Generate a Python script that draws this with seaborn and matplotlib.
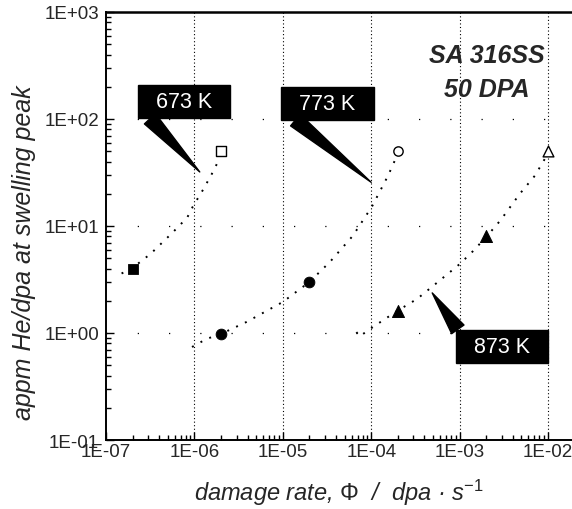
import numpy as np
import pandas as pd
import matplotlib
matplotlib.use("Agg")
import matplotlib.pyplot as plt
from matplotlib.ticker import FixedLocator, LogLocator, FuncFormatter, NullFormatter
import seaborn as sns

# measured points (damage rate in dpa/s, appm He/dpa at swelling peak)
rate_673_filled = [2e-7]
he_673_filled = [4.0]
rate_673_open = [2e-6]
he_673_open = [50]

rate_773_filled = [2e-6, 2e-5]
he_773_filled = [0.98, 3.0]
rate_773_open = [2e-4]
he_773_open = [50]

rate_873_filled = [2e-4, 2e-3]
he_873_filled = [1.6, 8.0]
rate_873_open = [1e-2]
he_873_open = [50]

# dotted fit curves
fit_673_x = [1.5e-7, 1.95e-7, 3.2e-7, 5.6e-7, 8.3e-7, 9.6e-7, 1.26e-6, 1.62e-6, 1.85e-6]
fit_673_y = [3.6, 4.0, 5.5, 8.6, 12, 15.2, 22, 32, 40]

fit_773_x = [9.4e-7, 1.37e-6, 2e-6, 3.9e-6, 1.0e-5, 2.0e-5, 3.4e-5, 6.2e-5, 1.02e-4, 1.55e-4, 1.9e-4]
fit_773_y = [0.74, 0.88, 0.98, 1.27, 1.95, 3.0, 4.6, 8.1, 15.2, 29.5, 43]

fit_873_x = [6.8e-5, 7.4e-5, 1.05e-4, 1.95e-4, 3.3e-4, 5.0e-4, 1.0e-3, 1.41e-3, 2.0e-3, 2.9e-3, 4.8e-3, 7.1e-3, 9.3e-3]
fit_873_y = [1.02, 0.93, 1.14, 1.6, 2.08, 2.75, 4.4, 5.8, 7.9, 11.3, 20, 29.5, 43]

# callout labels: text, position, tip
labels = ["673 K", "773 K", "873 K"]
label_pos = [(7.6e-7, 145), (3.2e-5, 141), (3.05e-3, 0.75)]
label_tip = [(1.15e-6, 32), (1.0e-4, 25.6), (4.9e-4, 2.37)]
label_rel = [(0.0, 0), (0.0, 0), (0.0, 1)]

x_ticks = [1e-7, 1e-6, 1e-5, 1e-4, 1e-3, 1e-2]
y_ticks = [1e-1, 1e0, 1e1, 1e2, 1e3]

sns.set_style("white")
plt.rcParams["font.family"] = ["Liberation Sans", "DejaVu Sans"]
plt.rcParams["mathtext.fontset"] = "custom"
plt.rcParams["mathtext.rm"] = "Liberation Sans"
plt.rcParams["mathtext.it"] = "Liberation Sans:italic"

fig = plt.figure(figsize=(5.72, 5.10), dpi=100)
ax = fig.add_axes([106 / 572, 1 - 441 / 510, 466 / 572, 428 / 510])
ax.set_xscale("log")
ax.set_yscale("log")
ax.set_xlim(1e-7, 10 ** (-7 + 466 / 88.4))
ax.set_ylim(0.1, 1000)

# grid
for xv in x_ticks[1:]:
    ax.axvline(xv, color="black", lw=0.8, ls=(0, (1, 2.2)), zorder=1)
for yv in y_ticks[1:-1]:
    ax.axhline(yv, color="black", lw=0.9, ls=(0, (1, 24)), zorder=1)

# fit curves
dot = (0, (1, 4))
for fx, fy in [(fit_673_x, fit_673_y), (fit_773_x, fit_773_y), (fit_873_x, fit_873_y)]:
    sns.lineplot(x=fx, y=fy, ax=ax, color="black", lw=1.4, linestyle=dot,
                 sort=False, estimator=None, zorder=2)

# markers
sns.scatterplot(x=rate_673_filled, y=he_673_filled, ax=ax, marker="s", s=55,
                color="black", edgecolor="black", zorder=3)
sns.scatterplot(x=rate_673_open, y=he_673_open, ax=ax, marker="s", s=55,
                color="white", edgecolor="black", linewidth=1, zorder=3)
sns.scatterplot(x=rate_773_filled, y=he_773_filled, ax=ax, marker="o", s=60,
                color="black", edgecolor="black", zorder=3)
sns.scatterplot(x=rate_773_open, y=he_773_open, ax=ax, marker="o", s=45,
                color="white", edgecolor="black", linewidth=1, zorder=3)
sns.scatterplot(x=rate_873_filled, y=he_873_filled, ax=ax, marker="^", s=75,
                color="black", edgecolor="black", zorder=3)
sns.scatterplot(x=rate_873_open, y=he_873_open, ax=ax, marker="^", s=60,
                color="white", edgecolor="black", linewidth=1, zorder=3)

# callouts
for txt, pos, tip, rel in zip(labels, label_pos, label_tip, label_rel):
    ax.annotate("  " + txt + "  ", xy=tip, xytext=pos, ha="center", va="center",
                color="white", fontsize=15.5, zorder=5,
                bbox=dict(boxstyle="square,pad=0.28", fc="black", ec="black"),
                arrowprops=dict(arrowstyle="wedge,tail_width=0.7,shrink_factor=0.5",
                                fc="black", ec="black", relpos=rel,
                                shrinkA=0, shrinkB=0))

ax.text(0.8176, 0.8995, "SA 316SS", transform=ax.transAxes, ha="center", va="center",
        fontsize=18, fontweight="bold", fontstyle="italic")
ax.text(0.8176, 0.820, "50 DPA", transform=ax.transAxes, ha="center", va="center",
        fontsize=18, fontweight="bold", fontstyle="italic")

# axes styling
for side in ["left", "bottom"]:
    ax.spines[side].set_linewidth(1.4)
ax.spines["top"].set_linewidth(1.8)
ax.spines["right"].set_visible(False)
for s in ax.spines.values():
    s.set_color("black")

ax.xaxis.set_major_locator(FixedLocator(x_ticks))
ax.yaxis.set_major_locator(FixedLocator(y_ticks))
ax.xaxis.set_minor_locator(LogLocator(base=10, subs=np.arange(2, 10)))
ax.yaxis.set_minor_locator(LogLocator(base=10, subs=np.arange(2, 10)))
fmt = FuncFormatter(lambda v, p: "{:.0E}".format(v))
ax.xaxis.set_major_formatter(fmt)
ax.yaxis.set_major_formatter(fmt)
ax.xaxis.set_minor_formatter(NullFormatter())
ax.yaxis.set_minor_formatter(NullFormatter())
ax.tick_params(which="both", direction="in", color="black", width=1,
               top=False, right=False, bottom=True, left=True)
ax.tick_params(which="major", length=6, labelsize=13.5)
ax.tick_params(which="minor", length=3.5)
ax.tick_params(axis="x", which="major", pad=2.5)
ax.tick_params(axis="y", which="major", pad=5)

ax.set_xlabel(r"damage rate, $\Phi$  /  dpa · s$^{-1}$", fontsize=17, fontstyle="italic",
              labelpad=12)
ax.set_ylabel("appm He/dpa at swelling peak", fontsize=18, fontstyle="italic")
ax.yaxis.set_label_coords(-0.15, 0.44)

fig.savefig("out.png", dpi=100)
